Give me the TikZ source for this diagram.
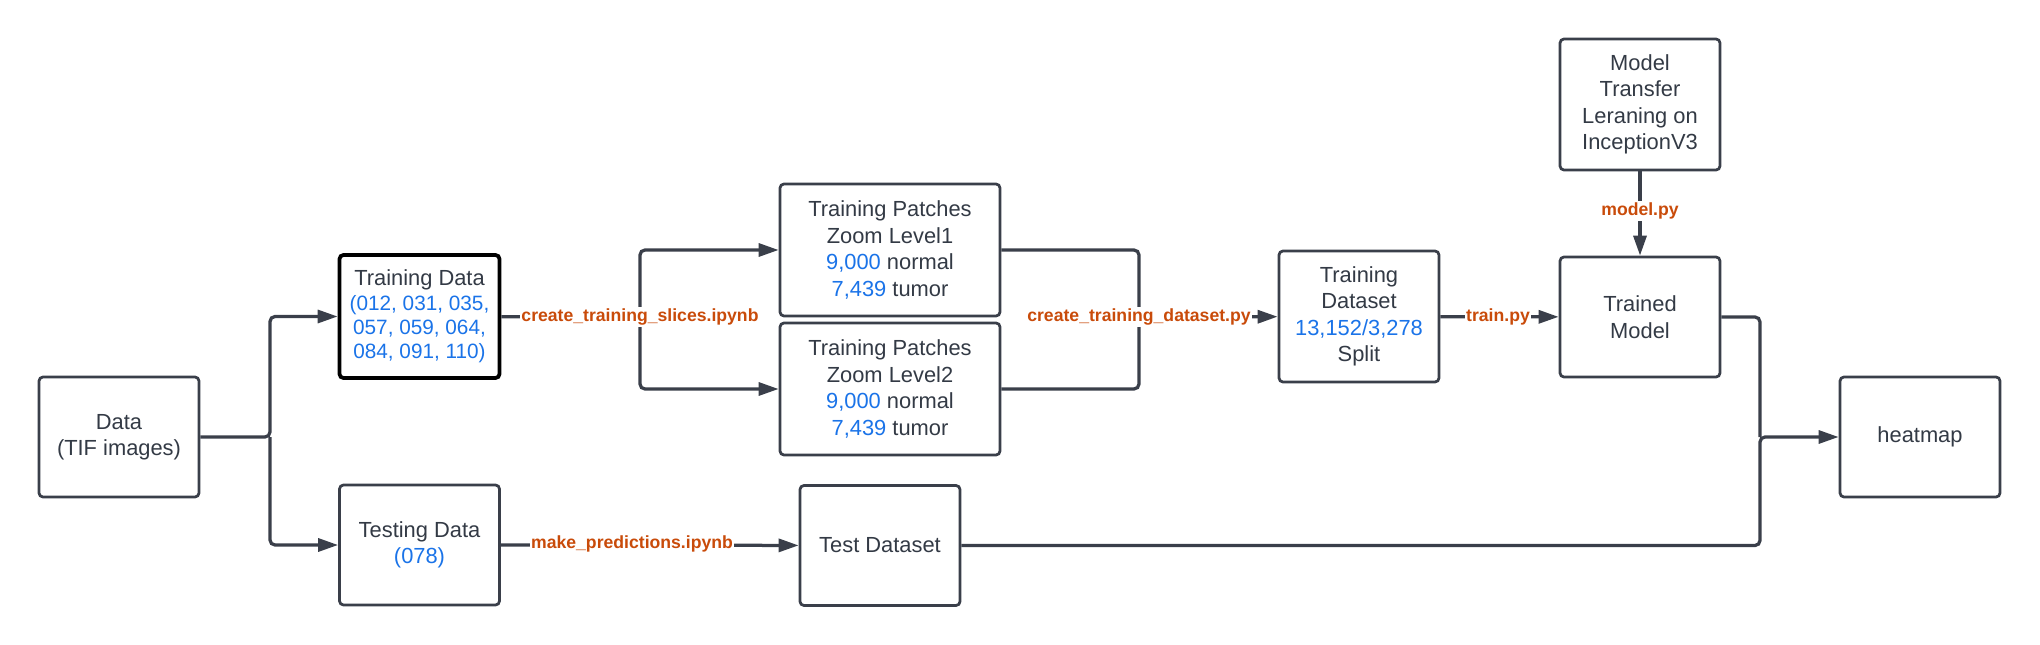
\documentclass[tikz,border=0pt]{standalone}
\usepackage{fontspec}
\setmainfont{Liberation Sans}
\definecolor{txtgray}{HTML}{333A45}
\definecolor{linegray}{HTML}{3A3F4A}
\definecolor{numblue}{HTML}{1A73E8}
\definecolor{scriptorange}{HTML}{C94B0A}
\usetikzlibrary{arrows.meta, positioning}
\tikzset{
    block/.style={
           rectangle,
           rounded corners=1.6pt,
           draw=linegray, line width=1.1pt,
           minimum width=64pt,
           minimum height=48pt,
           inner sep=2pt,
           text=txtgray,
           align=center,
           font=\fontsize{8.75}{10.6}\selectfont,
           },
    flow/.style={draw=linegray, line width=1.3pt, rounded corners=2pt},
    script/.style={fill=white, text=scriptorange, inner sep=0.6pt,
           font=\fontsize{7.05}{8}\selectfont\bfseries},
}
\newcommand{\cnt}[1]{\textcolor{numblue}{#1}}
\newcommand{\ids}[1]{{\fontsize{8.3}{9.7}\selectfont\cnt{#1}}}

\begin{document}
\begin{tikzpicture}[x=0.4pt, y=-0.4pt, >={Triangle[length=8pt,width=5.2pt]}]
  \useasboundingbox (0,0) rectangle (2040,645);
  \node[block]                         (D) at ( 119, 437)   {Data\\(TIF images)};
  \node[block, draw=black, line width=1.5pt, minimum height=49.2pt,
        font=\fontsize{8.75}{9.7}\selectfont]
                                       (A) at ( 419.5, 316.5) {Training Data\\\ids{(012, 031, 035,}\\\ids{057, 059, 064,}\\\ids{084, 091, 110)}};
  \node[block]                         (T) at ( 419.5, 545) {Testing Data\\\cnt{(078)}};
  \node[block, minimum width=88pt, minimum height=52.8pt]
                                       (P) at ( 890, 250)   {Training Patches\\Zoom Level1\\\cnt{9,000} normal\\\cnt{7,439} tumor};
  \node[block, minimum width=88pt, minimum height=52.8pt]
                                       (Q) at ( 890, 389)   {Training Patches\\Zoom Level2\\\cnt{9,000} normal\\\cnt{7,439} tumor};
  \node[block]                         (E) at ( 880, 545.5) {Test Dataset};
  \node[block, minimum height=52.4pt]  (S) at (1359, 316.5) {Training\\Dataset\\\cnt{13,152/3,278}\\Split};
  \node[block, minimum height=52.4pt]  (M) at (1640, 104.5) {Model\\Transfer\\Leraning on\\InceptionV3};
  \node[block]                         (R) at (1640, 317)   {Trained\\Model};
  \node[block]                         (H) at (1920, 437)   {heatmap};
  \coordinate (J1) at ( 270, 437);
  \coordinate (J2) at ( 640, 317);
  \coordinate (J3) at (1139, 317);
  \coordinate (J4) at (1760, 437);
  \draw[flow, ->] (D)  -- (J1) |- (A);
  \draw[flow, ->] (J1) |- (T);
  \draw[flow, ->] (A)  -- (J2) |- (P);
  \draw[flow, ->] (J2) |- (Q);
  \draw[flow]     (P)  -| (J3);
  \draw[flow]     (Q)  -| (J3);
  \draw[flow, ->] (J3) -- (S);
  \draw[flow, ->] (S)  -- (R);
  \draw[flow, ->] (M)  -- (R);
  \draw[flow]     (R)  -| (J4);
  \draw[flow, ->] (E)  -| (J4) -- (H);
  \draw[flow, ->] (T)  -- (E);
  \node[script] (L1) at (J2)        {create\_training\_slices.ipynb};
  \node[script] (L2) at (J3)        {create\_training\_dataset.py};
  \node[script] (L3) at (1498, 317) {train.py};
  \node[script] (L4) at (1640, 211) {model.py};
  \node[script] (L5) at ( 632, 544) {make\_predictions.ipynb};
\end{tikzpicture}
\end{document}
